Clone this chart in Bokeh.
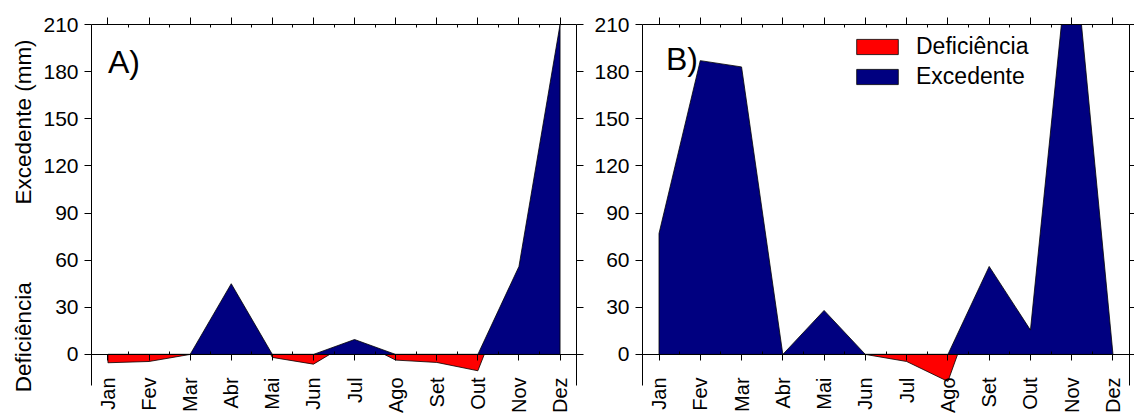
import numpy as np
from bokeh.plotting import figure
from bokeh.models import FixedTicker, LinearAxis, Range1d, Label, Legend, LegendItem
from bokeh.layouts import row
from bokeh.embed import file_html
from bokeh.resources import INLINE

# ---------------- data ----------------
months = ["Jan", "Fev", "Mar", "Abr", "Mai", "Jun", "Jul", "Ago", "Set", "Out", "Nov", "Dez"]
y_ticks = [0, 30, 60, 90, 120, 150, 180, 210]

excedente_a = [0, 0, 0, 45, 0, 0, 9.5, 0, 0, 0, 56, 210]
deficiencia_a = [-5.3, -4.5, 0, 0, -1.9, -6.2, 0, -3.6, -5.1, -10.4, 0, 0]

excedente_b = [77, 187, 183, 0, 28, 0, 0, 0, 56, 15.5, 275, 0]
deficiencia_b = [0, 0, 0, 0, 0, 0, -4.5, -17.2, 0, 0, 0, 0]

FONT = "Liberation Sans"
RED = "#ff0000"
NAVY = "#000080"
TICK_FS = "21px"
MONTH_FS = "20px"
H = 413
Y_AXIS_BOUNDS = (-20, 210)     # drawn extent of the vertical axes
Y_VIEW = (-37.6, 210)          # frame reaches the bottom of the canvas
TOP = 24


def neg_polygon(xs, bal):
    """Polygon of the part of the balance line that lies below zero."""
    px, py = [xs[0]], [0.0]
    for i in range(len(xs)):
        if i > 0:
            b0, b1 = bal[i - 1], bal[i]
            if (b0 < 0 < b1) or (b1 < 0 < b0):
                t = b0 / (b0 - b1)
                px.append(xs[i - 1] + t * (xs[i] - xs[i - 1]))
                py.append(0.0)
        px.append(xs[i])
        py.append(min(bal[i], 0.0))
    px.append(xs[-1])
    py.append(0.0)
    return px, py


def tick_only_axis(ticker, out, minor_in=0):
    return LinearAxis(ticker=ticker, major_tick_out=out, major_tick_in=0,
                      minor_tick_in=minor_in, minor_tick_out=0,
                      major_label_text_color=None, major_label_text_font_size="1px",
                      major_label_standoff=0, axis_line_color="black",
                      major_tick_line_color="black",
                      minor_tick_line_color="black" if minor_in else None)


def make_panel(tag, exc, dfc, width, bl, br, tag_x, tag_y, legend):
    x = list(range(1, len(months) + 1))
    mids = [i + 0.5 for i in x[:-1]]
    p = figure(width=width, height=H,
               x_range=Range1d(0.6, 12.4), y_range=Range1d(*Y_VIEW),
               output_backend="svg", toolbar_location=None,
               x_axis_location=None, y_axis_location="left",
               min_border_left=bl, min_border_right=br,
               min_border_top=TOP, min_border_bottom=0)
    p.grid.visible = False
    p.outline_line_color = None
    p.background_fill_color = "white"
    p.border_fill_color = "white"

    # left axis
    ya = p.yaxis[0]
    ya.ticker = FixedTicker(ticks=y_ticks)
    ya.bounds = Y_AXIS_BOUNDS
    ya.major_tick_out = 7
    ya.major_tick_in = 0
    ya.minor_tick_line_color = None
    ya.major_label_standoff = 6
    ya.major_label_text_font = FONT
    ya.major_label_text_font_size = TICK_FS
    ya.major_label_text_color = "black"
    ya.axis_line_color = "black"
    ya.major_tick_line_color = "black"

    # right and top axes: ticks only
    ra = tick_only_axis(FixedTicker(ticks=y_ticks), min(7, br))
    ra.bounds = Y_AXIS_BOUNDS
    p.add_layout(ra, "right")
    p.add_layout(tick_only_axis(FixedTicker(ticks=x, minor_ticks=mids), 7, 3), "above")

    # zero line axis with month ticks and labels
    za = LinearAxis(fixed_location=0, ticker=FixedTicker(ticks=x, minor_ticks=mids),
                    major_tick_out=6, major_tick_in=0, minor_tick_in=3, minor_tick_out=0,
                    major_label_orientation=np.pi / 2, major_label_standoff=17,
                    major_label_overrides={i: m for i, m in zip(x, months)},
                    major_label_text_font=FONT, major_label_text_font_size=MONTH_FS,
                    major_label_text_color="black", axis_line_color="black",
                    major_tick_line_color="black", minor_tick_line_color="black")
    p.add_layout(za, "below")

    # areas
    bal = [e + d for e, d in zip(exc, dfc)]
    rx, ry = neg_polygon(x, bal)
    red_r = p.patch(rx, ry, fill_color=RED, line_color="black", line_width=0.8)
    bx = [x[0]] + x + [x[-1]]
    by = [0] + list(exc) + [0]
    blue_r = p.patch(bx, by, fill_color=NAVY, line_color="black", line_width=0.8)

    p.add_layout(Label(x=tag_x, y=tag_y, text=tag, text_font=FONT, text_font_size="32px",
                       text_align="left", text_baseline="alphabetic", text_color="black"))

    if legend:
        lg = Legend(items=[LegendItem(label="Deficiência", renderers=[red_r]),
                           LegendItem(label="Excedente", renderers=[blue_r])],
                    location=(209, 323), padding=0, margin=0,
                    border_line_color=None, background_fill_alpha=0,
                    glyph_width=52, glyph_height=19, label_height=19, spacing=3,
                    label_standoff=13, label_text_font=FONT, label_text_font_size="23px",
                    label_text_color="black")
        p.add_layout(lg)
    return p


# narrow strip holding the y-axis titles
p0 = figure(width=38, height=H, x_range=Range1d(0, 1), y_range=Range1d(*Y_VIEW),
            output_backend="svg", toolbar_location=None,
            x_axis_location=None, y_axis_location=None,
            min_border_left=0, min_border_right=0, min_border_top=TOP, min_border_bottom=0)
p0.grid.visible = False
p0.outline_line_color = None
for txt, yv in [("Excedente (mm)", 148), ("Deficiência", 11)]:
    p0.add_layout(Label(x=0.6, y=yv, text=txt, angle=np.pi / 2,
                        text_align="center", text_baseline="middle",
                        text_font=FONT, text_font_size="22.5px", text_color="black"))

pa = make_panel("A)", excedente_a, deficiencia_a, 548, 53, 10, 1.0, 186, False)
pb = make_panel("B)", excedente_b, deficiencia_b, 548, 56, 5, 1.17, 188, True)

layout = row(p0, pa, pb)
open("out.html", "w").write(file_html(layout, INLINE))
